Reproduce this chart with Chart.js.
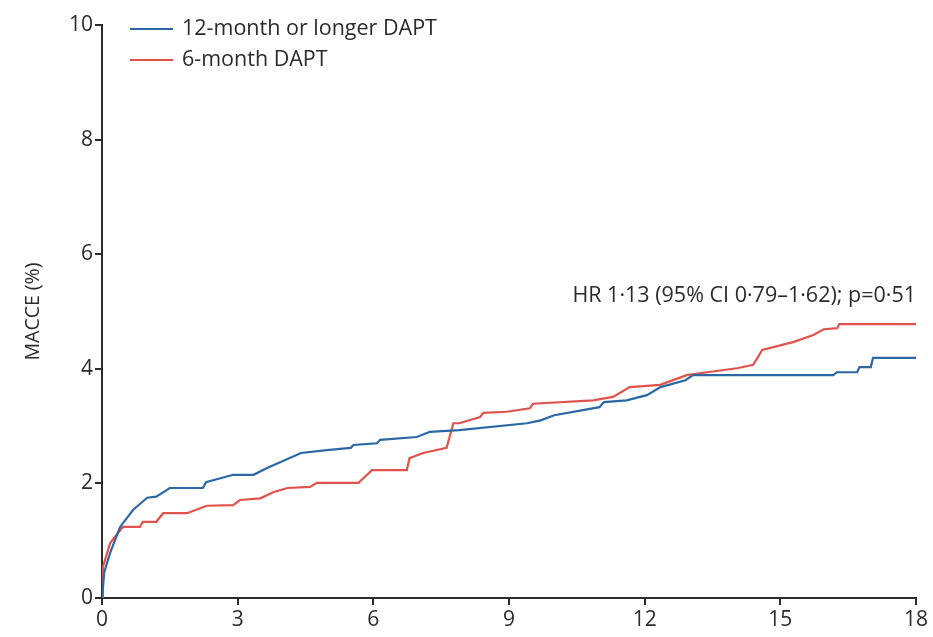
<!DOCTYPE html>
<html>
<head>
<meta charset="utf-8">
<script src="https://cdn.jsdelivr.net/npm/chart.js@4.4.1/dist/chart.umd.min.js"></script>
<style>
  html, body { margin: 0; padding: 0; background: #fff; }
  #wrap { width: 933px; height: 637px; }
</style>
</head>
<body>
<div id="wrap"><canvas id="kmChart"></canvas></div>
<script>
'use strict';

// 12-month or longer DAPT (blue)
var monthsLong = [0, 0.05, 0.18, 0.4, 0.69, 1.0, 1.2, 1.5, 2.23, 2.3, 2.9, 3.35, 3.65, 4.4, 4.97, 5.5, 5.56, 6.08, 6.15, 6.96, 7.25, 7.9, 9.4, 9.7, 10.0, 11.0, 11.1, 11.6, 12.05, 12.35, 12.9, 13.07, 16.17, 16.25, 16.7, 16.75, 17.0, 17.05, 18];
var valuesLong = [0, 0.45, 0.79, 1.24, 1.54, 1.75, 1.77, 1.92, 1.92, 2.02, 2.15, 2.15, 2.27, 2.53, 2.58, 2.62, 2.67, 2.7, 2.76, 2.81, 2.9, 2.93, 3.05, 3.1, 3.19, 3.33, 3.42, 3.45, 3.54, 3.68, 3.8, 3.89, 3.89, 3.94, 3.94, 4.03, 4.03, 4.19, 4.19];

// 6-month DAPT (red)
var monthsShort = [0, 0.02, 0.18, 0.46, 0.84, 0.9, 1.2, 1.35, 1.88, 2.32, 2.9, 3.05, 3.5, 3.8, 4.1, 4.6, 4.75, 5.67, 5.78, 5.97, 6.74, 6.8, 7.1, 7.62, 7.77, 7.9, 8.36, 8.43, 8.95, 9.46, 9.53, 10.86, 11.3, 11.67, 12.34, 12.93, 13.38, 14.04, 14.4, 14.6, 15.3, 15.73, 15.96, 16.26, 16.3, 18];
var valuesShort = [0, 0.54, 0.96, 1.24, 1.24, 1.33, 1.33, 1.48, 1.48, 1.61, 1.62, 1.71, 1.74, 1.85, 1.92, 1.94, 2.01, 2.01, 2.09, 2.23, 2.23, 2.44, 2.53, 2.62, 3.05, 3.05, 3.16, 3.23, 3.25, 3.31, 3.39, 3.45, 3.51, 3.68, 3.72, 3.89, 3.94, 4.01, 4.07, 4.33, 4.47, 4.59, 4.69, 4.71, 4.78, 4.78];

var seriesLabels = ['12-month or longer DAPT', '6-month DAPT'];
var xTicks = [0, 3, 6, 9, 12, 15, 18];
var yTicks = [0, 2, 4, 6, 8, 10];
var hrText = 'HR 1\u00b713 (95% CI 0\u00b779\u20131\u00b762); p=0\u00b751';

function toPoints(xs, ys) {
  return xs.map(function (x, i) { return { x: x, y: ys[i] }; });
}

var FONT = '"Open Sans", "Noto Sans", sans-serif';
var INK = '#2b2b2b';

// legend + HR annotation drawn inside the plot area
var overlayPlugin = {
  id: 'overlay',
  afterDraw: function (chart) {
    var ctx = chart.ctx;
    ctx.save();
    ctx.font = '21.5px ' + FONT;
    ctx.textBaseline = 'middle';
    ctx.textAlign = 'left';
    var rows = [29, 60];
    chart.data.datasets.forEach(function (ds, i) {
      ctx.strokeStyle = ds.borderColor;
      ctx.lineWidth = 2;
      ctx.beginPath();
      ctx.moveTo(130, rows[i]);
      ctx.lineTo(173, rows[i]);
      ctx.stroke();
      ctx.fillStyle = INK;
      ctx.fillText(ds.label, 182, rows[i]);
    });
    ctx.font = '21.5px ' + FONT;
    ctx.textAlign = 'right';
    ctx.fillText(hrText, chart.chartArea.right, 296);
    ctx.restore();
  }
};

var ctx = document.getElementById('kmChart').getContext('2d');
var kmChart = new Chart(ctx, {
  type: 'line',
  data: {
    datasets: [{
      label: seriesLabels[0],
      data: toPoints(monthsLong, valuesLong),
      borderColor: '#2b67a3',
      borderWidth: 2.2,
      pointRadius: 0,
      tension: 0
    }, {
      label: seriesLabels[1],
      data: toPoints(monthsShort, valuesShort),
      borderColor: '#e0534c',
      borderWidth: 2.2,
      pointRadius: 0,
      tension: 0
    }]
  },
  options: {
    responsive: true,
    maintainAspectRatio: false,
    animation: false,
    layout: { padding: { top: 25, right: 17, left: 0, bottom: 0 } },
    plugins: {
      legend: { display: false },
      tooltip: { enabled: false }
    },
    scales: {
      x: {
        type: 'linear',
        min: 0,
        max: 18,
        afterBuildTicks: function (scale) {
          scale.ticks = xTicks.map(function (v) { return { value: v }; });
        },
        afterFit: function (scale) { scale.height = 39; },
        grid: { drawOnChartArea: false, drawTicks: true, tickLength: 7, color: INK, lineWidth: 2 },
        border: { display: true, color: INK, width: 2 },
        ticks: { color: INK, padding: 2, font: { family: FONT, size: 21 } }
      },
      y: {
        type: 'linear',
        min: 0,
        max: 10,
        afterBuildTicks: function (scale) {
          scale.ticks = yTicks.map(function (v) { return { value: v }; });
        },
        afterFit: function (scale) { scale.width = 102; },
        grid: { drawOnChartArea: false, drawTicks: true, tickLength: 7, color: INK, lineWidth: 2 },
        border: { display: true, color: INK, width: 2 },
        title: { display: true, text: 'MACCE (%)', color: INK, padding: { top: 22, bottom: 0 }, font: { family: FONT, size: 19.5 } },
        ticks: { color: INK, padding: 2, font: { family: FONT, size: 21 } }
      }
    }
  },
  plugins: [overlayPlugin]
});
</script>
</body>
</html>
